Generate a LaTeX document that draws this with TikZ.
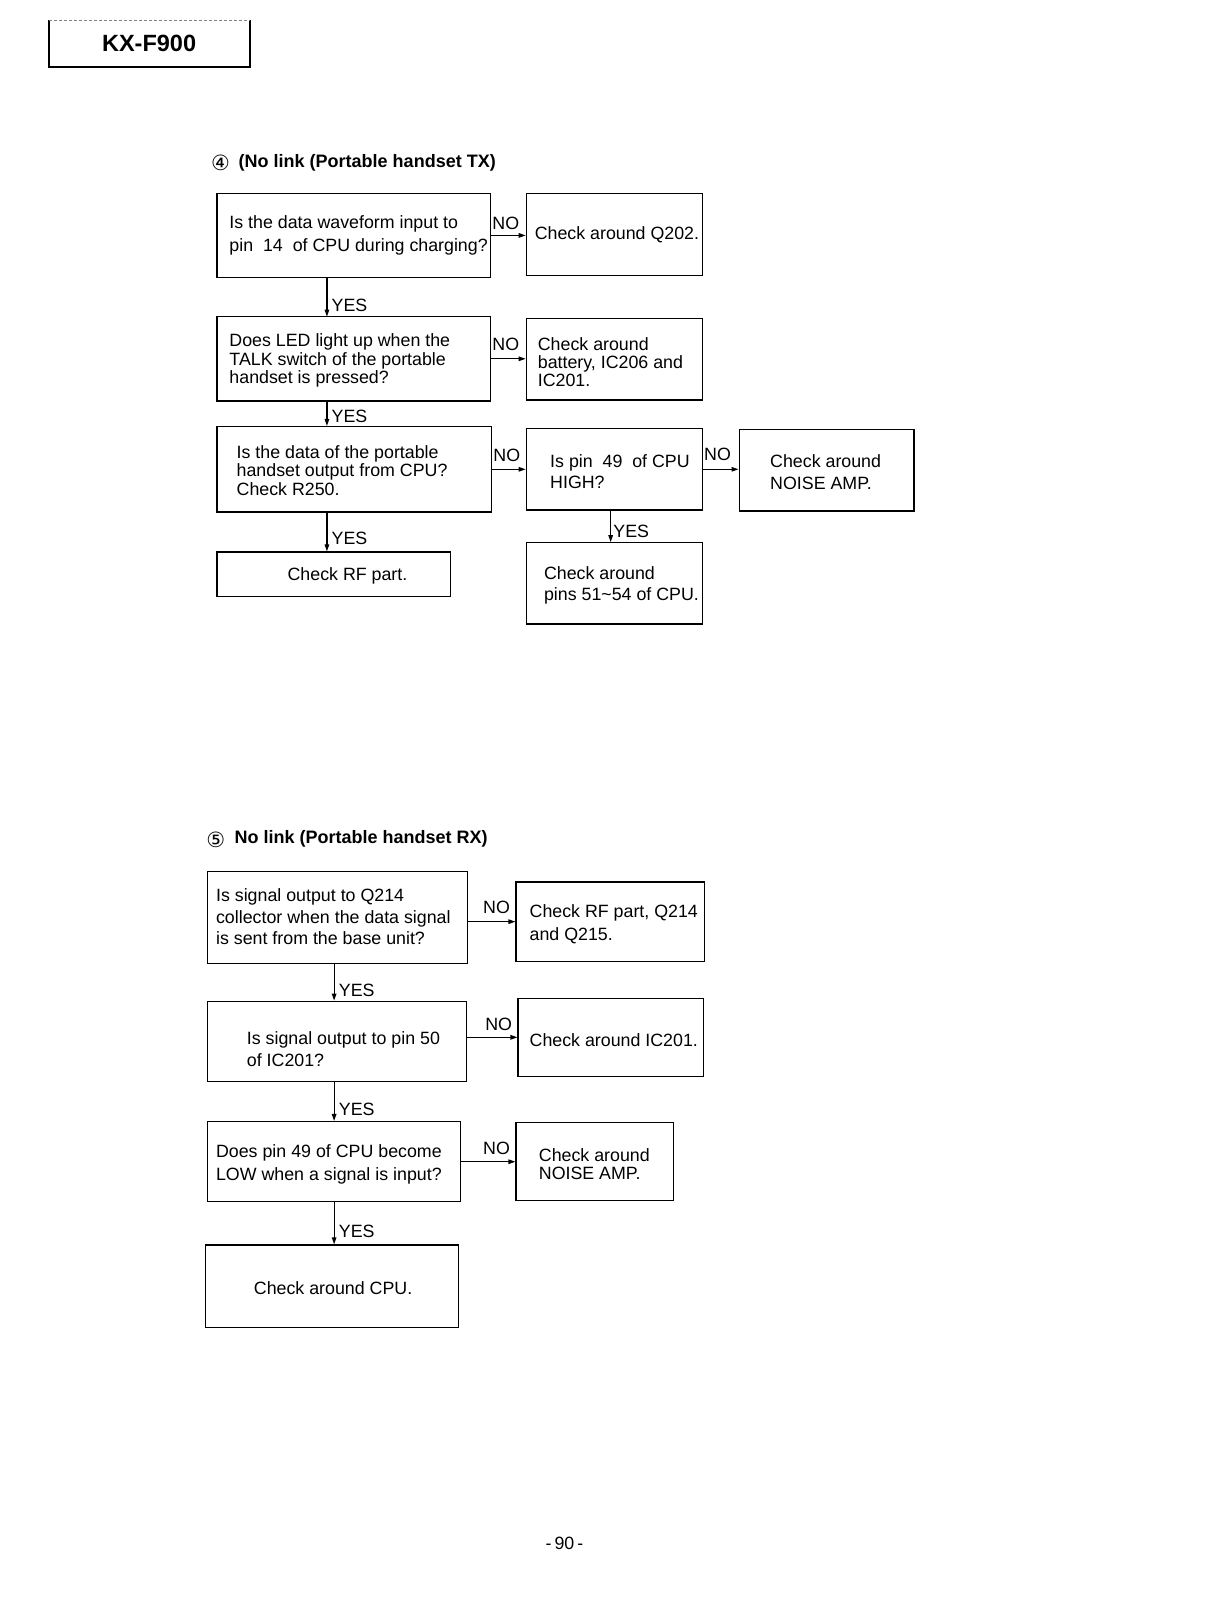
\documentclass[tikz,border=0pt]{standalone}
\usepackage{fontspec}
\setmainfont{Liberation Sans}
\newfontfamily\dejavu{DejaVu Sans}
\usetikzlibrary{arrows.meta,fit}
\begin{document}
\begin{tikzpicture}[x=1.0279pt,y=-1.0279pt,
  bx/.style={draw, line width=1.35pt, inner sep=0pt},
  tx/.style={anchor=west, inner sep=0pt, align=left, yshift=-1.8pt, font=\fontsize{17.8}{#1}\selectfont},
  tx/.default=21,
  lab/.style={inner sep=0pt, yshift=-1pt, font=\fontsize{17.8}{20}\selectfont},
  ttl/.style={anchor=west, inner sep=0pt, font=\fontsize{18}{20}\selectfont\bfseries},
  circ/.style={anchor=center, inner sep=0pt, font=\dejavu\fontsize{21}{21}\selectfont},
  arr/.style={line width=1.2pt, -{Triangle[length=7pt,width=4.5pt]}}]
\useasboundingbox[fill=white] (0,0) rectangle (1183,1568);

% header
\node[fit={(48,20) (243,65)}, inner sep=0pt] (hdr) {};
\draw[line width=1.3pt] (hdr.north west) -- (hdr.south west) -- (hdr.south east) -- (hdr.north east);
\draw[line width=0.9pt, gray, densely dashed] (hdr.north west) -- (hdr.north east);
\node[inner sep=0pt, font=\fontsize{23.5}{26}\selectfont\bfseries] (hdrt) at (145,42) {KX-F900};

% ---------- section 4 ----------
\node[circ] (c4n) at (214.5,158) {④};
\node[ttl] (t4) at (232,158) {(No link (Portable handset TX)};

\coordinate (vx1) at (318,0);
\coordinate (vx2) at (594,0);
\coordinate (vx3) at (325,0);

\node[bx, fit={(211,188) (477,270)}] (a1) {};
\node[tx=22.6] (a1t) at (223,227) {Is the data waveform input to\\pin\ \ 14\ \ of CPU during charging?};
\node[bx, fit={(512,188) (683,268)}] (q202) {};
\node[tx] (q202t) at (520,227) {Check around Q202.};
\draw[arr] (a1.east) -- (a1.east -| q202.west);
\node[lab] (no1) at (492,216) {NO};

\draw[arr] (a1.south -| vx1) -- (vx1 |- 0,308) coordinate (a2top);
\node[bx, fit={(211,308) (477,390)}] (a2) {};
\node[tx=18.5] (a2t) at (223,349) {Does LED light up when the\\TALK switch of the portable\\handset is pressed?};
\node[lab] (yes1) at (340,296) {YES};
\node[bx, fit={(512,310) (683,389)}] (bat) {};
\node[tx=18] (batt) at (523,350.5) {Check around\\battery, IC206 and\\IC201.};
\draw[arr] (a2.east) -- (a2.east -| bat.west);
\node[lab] (no2) at (492,334) {NO};

\node[bx, fit={(211,415) (478,498)}] (a3) {};
\node[tx=18.5] (a3t) at (230,456) {Is the data of the portable\\handset output from CPU?\\Check R250.};
\node[lab] (yes2) at (340,404) {YES};
\node[bx, fit={(512,417) (683,496)}] (b3) {};
\node[tx=20.6] (b3t) at (535,457) {Is pin\ \ 49\ \ of CPU\\HIGH?};
\node[bx, fit={(719,418) (889,497)}] (noise1) {};
\node[tx=21.6] (noise1t) at (749,457.5) {Check around\\NOISE AMP.};
\draw[arr] (a3.east) -- (a3.east -| b3.west);
\node[lab] (no3) at (493,442) {NO};
\draw[arr] (b3.east) -- (b3.east -| noise1.west);
\node[lab] (no4) at (698,441) {NO};

\node[bx, fit={(211,537) (438,580)}] (rf) {};
\node[tx, anchor=center] (rft) at (338,558) {Check RF part.};
\node[lab] (yes3) at (340,523) {YES};
\node[bx, fit={(512,528) (683,607)}] (pins) {};
\node[tx=21.6] (pinst) at (529,567.5) {Check around\\pins 51\textasciitilde 54 of CPU.};
\node[lab] (yes4) at (614,516) {YES};

\draw[arr] (a2.south -| vx1) -- (a3.north -| vx1);
\draw[arr] (a3.south -| vx1) -- (rf.north -| vx1);
\draw[arr] (b3.south -| vx2) -- (pins.north -| vx2);

% ---------- section 5 ----------
\node[circ] (c5n) at (210,817) {⑤};
\node[ttl] (t5) at (228,816) {No link (Portable handset RX)};

\node[bx, fit={(202,848) (455,937)}] (c1) {};
\node[tx=21.6] (c1t) at (210,890) {Is signal output to Q214\\collector when the data signal\\is sent from the base unit?};
\node[bx, fit={(502,858) (685,935)}] (d1) {};
\node[tx=22.6] (d1t) at (515,897) {Check RF part, Q214\\and Q215.};
\draw[arr] (c1.east |- d1.west) -- (d1.west);
\node[lab] (no5) at (483,882) {NO};

\node[bx, fit={(202,974) (454,1052)}] (c2) {};
\node[tx=21.6] (c2t) at (240,1018.5) {Is signal output to pin 50\\of IC201?};
\node[lab] (yes5) at (347,962) {YES};
\node[bx, fit={(504,971) (684,1047)}] (d2) {};
\node[tx] (d2t) at (515,1010) {Check around IC201.};
\draw[arr] (c2.east |- d2.west) -- (d2.west);
\node[lab] (no6) at (485,995) {NO};

\node[bx, fit={(202,1091) (448,1169)}] (c3) {};
\node[tx=22.6] (c3t) at (210,1131) {Does pin 49 of CPU become\\LOW when a signal is input?};
\node[lab] (yes6) at (347,1078) {YES};
\node[bx, fit={(502,1092) (655,1168)}] (d3) {};
\node[tx=17.5] (d3t) at (524,1130.5) {Check around\\NOISE AMP.};
\draw[arr] (c3.east) -- (c3.east -| d3.west);
\node[lab] (no7) at (483,1116) {NO};

\node[bx, fit={(200,1211) (446,1291)}] (c4) {};
\node[tx, anchor=center] (c4t) at (324,1251) {Check around CPU.};
\node[lab] (yes7) at (347,1197) {YES};

\draw[arr] (c1.south -| vx3) -- (c2.north -| vx3);
\draw[arr] (c2.south -| vx3) -- (c3.north -| vx3);
\draw[arr] (c3.south -| vx3) -- (c4.north -| vx3);

% page number
\node[lab] (pg) at (549,1500) {-\,90\,-};
\end{tikzpicture}
\end{document}
